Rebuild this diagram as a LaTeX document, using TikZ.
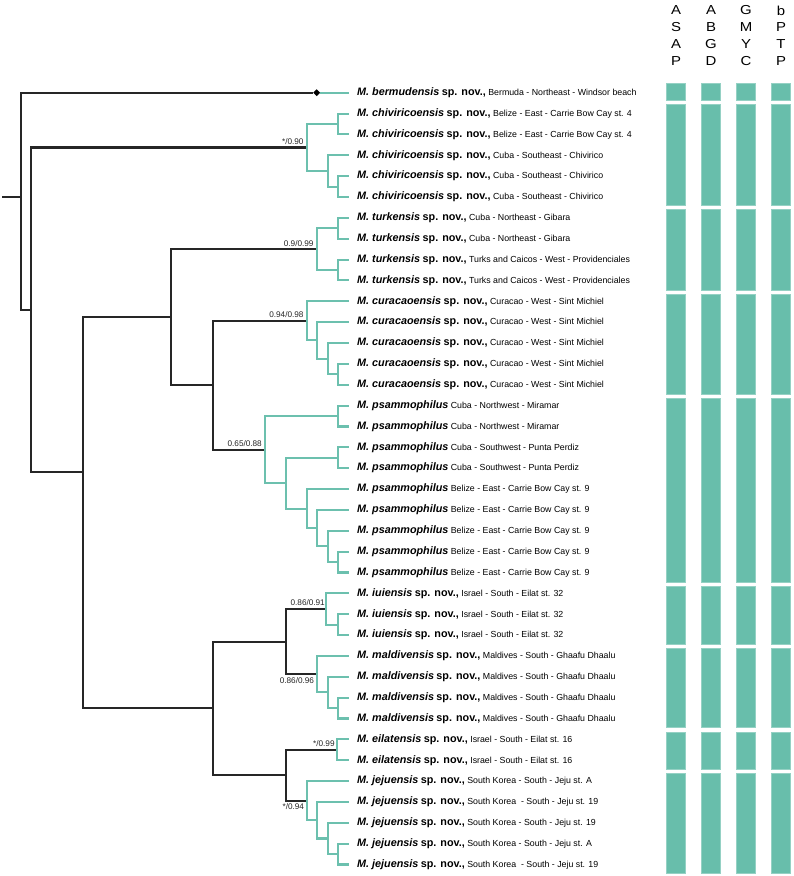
\documentclass[tikz,border=0pt]{standalone}
\usepackage{fontspec}
\setmainfont{Liberation Sans}
\newfontfamily\hdrfont[FakeStretch=1.15]{Liberation Sans}
\usetikzlibrary{positioning,shapes.geometric}

\definecolor{branchgray}{HTML}{262626}
\definecolor{cladeteal}{HTML}{6CC0AE}
\definecolor{barteal}{HTML}{68BEAB}

\newcommand{\spn}[1]{{\fontsize{10.8}{12}\selectfont\bfseries\itshape M. #1} {\fontsize{10.8}{12}\selectfont\bfseries sp. nov.,}}
\newcommand{\psm}{{\fontsize{10.8}{12}\selectfont\bfseries\itshape M. psammophilus}}

\tikzset{
  branch/.style={draw=branchgray, line width=2.1pt},
  clade/.style={draw=cladeteal, line width=2.1pt},
  leaflabel/.style={inner sep=0pt, font=\fontsize{8.8}{10}\selectfont},
  support/.style={inner sep=0pt, font=\fontsize{8.2}{9}\selectfont, text=branchgray},
  bar/.style={fill=barteal, draw=barteal!70!white, line width=0.5pt},
  hdr/.style={inner sep=0pt, anchor=north, align=center, font=\hdrfont\fontsize{13}{16.8}\selectfont}
}

\begin{document}
\begin{tikzpicture}[x=1pt, y=-1pt]
\def\rw#1{92.7+20.86*(#1-1)}
\useasboundingbox (0,0) rectangle (793,876);

% tips
\foreach \i in {1,...,38}
  \coordinate (l\i) at (349, {\rw{\i}});

% backbone
\coordinate (base) at (2, {\rw{6}});
\coordinate (root) at (20.7, {\rw{6}});
\coordinate (nA) at (31, {\rw{11.4}});
\coordinate (nB) at (83, {\rw{19.17}});
\coordinate (nC) at (171, {\rw{11.7617}});
\coordinate (nD) at (212.7, {\rw{30.5156}});
\coordinate (nE) at (212.7, {\rw{15.0234}});
\coordinate (nF) at (285.7, {\rw{27.3125}});
\coordinate (nG) at (285.7, {\rw{33.7188}});

% clades
\coordinate (cChi) at (306.7, {\rw{3.625}});
\coordinate (c1) at (338.3, {\rw{2.5}});
\coordinate (c2) at (327.7, {\rw{4.75}});
\coordinate (c3) at (338.3, {\rw{5.5}});
\coordinate (cTur) at (316.7, {\rw{8.5}});
\coordinate (t1) at (338.3, {\rw{7.5}});
\coordinate (t2) at (338.3, {\rw{9.5}});
\coordinate (cCur) at (306.7, {\rw{11.9375}});
\coordinate (u1) at (316.7, {\rw{12.875}});
\coordinate (u2) at (327.7, {\rw{13.75}});
\coordinate (u3) at (338.3, {\rw{14.5}});
\coordinate (cPsa) at (265, {\rw{18.1094}});
\coordinate (p1) at (338.3, {\rw{16.5}});
\coordinate (p0) at (285.7, {\rw{19.7188}});
\coordinate (p2) at (338.3, {\rw{18.5}});
\coordinate (p3) at (306.7, {\rw{20.9375}});
\coordinate (p4) at (316.7, {\rw{21.875}});
\coordinate (p5) at (327.7, {\rw{22.75}});
\coordinate (p6) at (338.3, {\rw{23.5}});
\coordinate (cIui) at (326, {\rw{25.75}});
\coordinate (i1) at (338.3, {\rw{26.5}});
\coordinate (cMal) at (316.7, {\rw{28.875}});
\coordinate (m1) at (327.7, {\rw{29.75}});
\coordinate (m2) at (338.3, {\rw{30.5}});
\coordinate (cEil) at (337.3, {\rw{32.5}});
\coordinate (cJej) at (306.7, {\rw{34.9375}});
\coordinate (j1) at (316.7, {\rw{35.875}});
\coordinate (j2) at (327.7, {\rw{36.75}});
\coordinate (j3) at (338.3, {\rw{37.5}});

\node[diamond, fill=black, inner sep=0pt, minimum size=7pt] (bermu) at (316.7, {\rw{1}}) {};

\draw[branch] (base) -- (root);
\foreach \a/\b in {root/bermu, root/nA, nA/cChi, nA/nB, nB/nC, nB/nD, nC/cTur, nC/nE,
    nE/cCur, nE/cPsa, nD/nF, nD/nG, nF/cIui, nF/cMal, nG/cEil, nG/cJej}
  \draw[branch] (\a) |- (\b);

\draw[clade] (bermu) -- (l1);
\foreach \a/\b in {cChi/c1, cChi/c2, c1/l2, c1/l3, c2/l4, c2/c3, c3/l5, c3/l6,
    cTur/t1, cTur/t2, t1/l7, t1/l8, t2/l9, t2/l10,
    cCur/l11, cCur/u1, u1/l12, u1/u2, u2/l13, u2/u3, u3/l14, u3/l15,
    cPsa/p1, cPsa/p0, p1/l16, p1/l17, p0/p2, p0/p3, p2/l18, p2/l19, p3/l20, p3/p4,
    p4/l21, p4/p5, p5/l22, p5/p6, p6/l23, p6/l24,
    cIui/l25, cIui/i1, i1/l26, i1/l27,
    cMal/l28, cMal/m1, m1/l29, m1/m2, m2/l30, m2/l31,
    cEil/l32, cEil/l33,
    cJej/l34, cJej/j1, j1/l35, j1/j2, j2/l36, j2/j3, j3/l37, j3/l38}
  \draw[clade] (\a) |- (\b);

% tip labels
\foreach \i/\txt in {
  1/{\spn{bermudensis} Bermuda - Northeast - Windsor beach},
  2/{\spn{chiviricoensis} Belize - East - Carrie Bow Cay st. 4},
  3/{\spn{chiviricoensis} Belize - East - Carrie Bow Cay st. 4},
  4/{\spn{chiviricoensis} Cuba - Southeast - Chivirico},
  5/{\spn{chiviricoensis} Cuba - Southeast - Chivirico},
  6/{\spn{chiviricoensis} Cuba - Southeast - Chivirico},
  7/{\spn{turkensis} Cuba - Northeast - Gibara},
  8/{\spn{turkensis} Cuba - Northeast - Gibara},
  9/{\spn{turkensis} Turks and Caicos - West - Providenciales},
  10/{\spn{turkensis} Turks and Caicos - West - Providenciales},
  11/{\spn{curacaoensis} Curacao - West - Sint Michiel},
  12/{\spn{curacaoensis} Curacao - West - Sint Michiel},
  13/{\spn{curacaoensis} Curacao - West - Sint Michiel},
  14/{\spn{curacaoensis} Curacao - West - Sint Michiel},
  15/{\spn{curacaoensis} Curacao - West - Sint Michiel},
  16/{\psm{} Cuba - Northwest - Miramar},
  17/{\psm{} Cuba - Northwest - Miramar},
  18/{\psm{} Cuba - Southwest - Punta Perdiz},
  19/{\psm{} Cuba - Southwest - Punta Perdiz},
  20/{\psm{} Belize - East - Carrie Bow Cay st. 9},
  21/{\psm{} Belize - East - Carrie Bow Cay st. 9},
  22/{\psm{} Belize - East - Carrie Bow Cay st. 9},
  23/{\psm{} Belize - East - Carrie Bow Cay st. 9},
  24/{\psm{} Belize - East - Carrie Bow Cay st. 9},
  25/{\spn{iuiensis} Israel - South - Eilat st. 32},
  26/{\spn{iuiensis} Israel - South - Eilat st. 32},
  27/{\spn{iuiensis} Israel - South - Eilat st. 32},
  28/{\spn{maldivensis} Maldives - South - Ghaafu Dhaalu},
  29/{\spn{maldivensis} Maldives - South - Ghaafu Dhaalu},
  30/{\spn{maldivensis} Maldives - South - Ghaafu Dhaalu},
  31/{\spn{maldivensis} Maldives - South - Ghaafu Dhaalu},
  32/{\spn{eilatensis} Israel - South - Eilat st. 16},
  33/{\spn{eilatensis} Israel - South - Eilat st. 16},
  34/{\spn{jejuensis} South Korea - South - Jeju st. A},
  35/{\spn{jejuensis} South Korea\ \ - South - Jeju st. 19},
  36/{\spn{jejuensis} South Korea - South - Jeju st. 19},
  37/{\spn{jejuensis} South Korea - South - Jeju st. A},
  38/{\spn{jejuensis} South Korea\ \ - South - Jeju st. 19}}
  \node[leaflabel, right=8pt of l\i] (lab\i) {\txt};

% support values
\node[support, above left=2.8pt and 3pt of cChi] (sChi) {*/0.90};
\node[support, above left=2.8pt and 3pt of cTur] (sTur) {0.9/0.99};
\node[support, above left=2.8pt and 3pt of cCur] (sCur) {0.94/0.98};
\node[support, above left=2.8pt and 3pt of cPsa] (sPsa) {0.65/0.88};
\node[support, above left=2.8pt and 1pt of cIui] (sIui) {0.86/0.91};
\node[support, below left=3.2pt and 2.5pt of cMal] (sMal) {0.86/0.96};
\node[support, above left=2.8pt and 2.5pt of cEil] (sEil) {*/0.99};
\node[support, below left=3.2pt and 2.5pt of cJej] (sJej) {*/0.94};

% delimitation bars
\foreach \cx in {666.3, 701.3, 736.3, 771.3}
  \foreach \ya/\yb in {83.7/100.3, 104.3/205.7, 209.7/290, 294.3/394.3, 398.7/582,
      586.3/644, 648.3/727.7, 732/769.7, 773.7/873.3}
    \path[bar] (\cx,\ya) rectangle (\cx+19.4,\yb);

\foreach \cx/\nm/\txt in {676/asap/{A\\S\\A\\P}, 711/abgd/{A\\B\\G\\D},
    746/gmyc/{G\\M\\Y\\C}, 781/bptp/{b\\P\\T\\P}}
  \node[hdr] (\nm) at (\cx, 5.5) {\txt};

\end{tikzpicture}
\end{document}
